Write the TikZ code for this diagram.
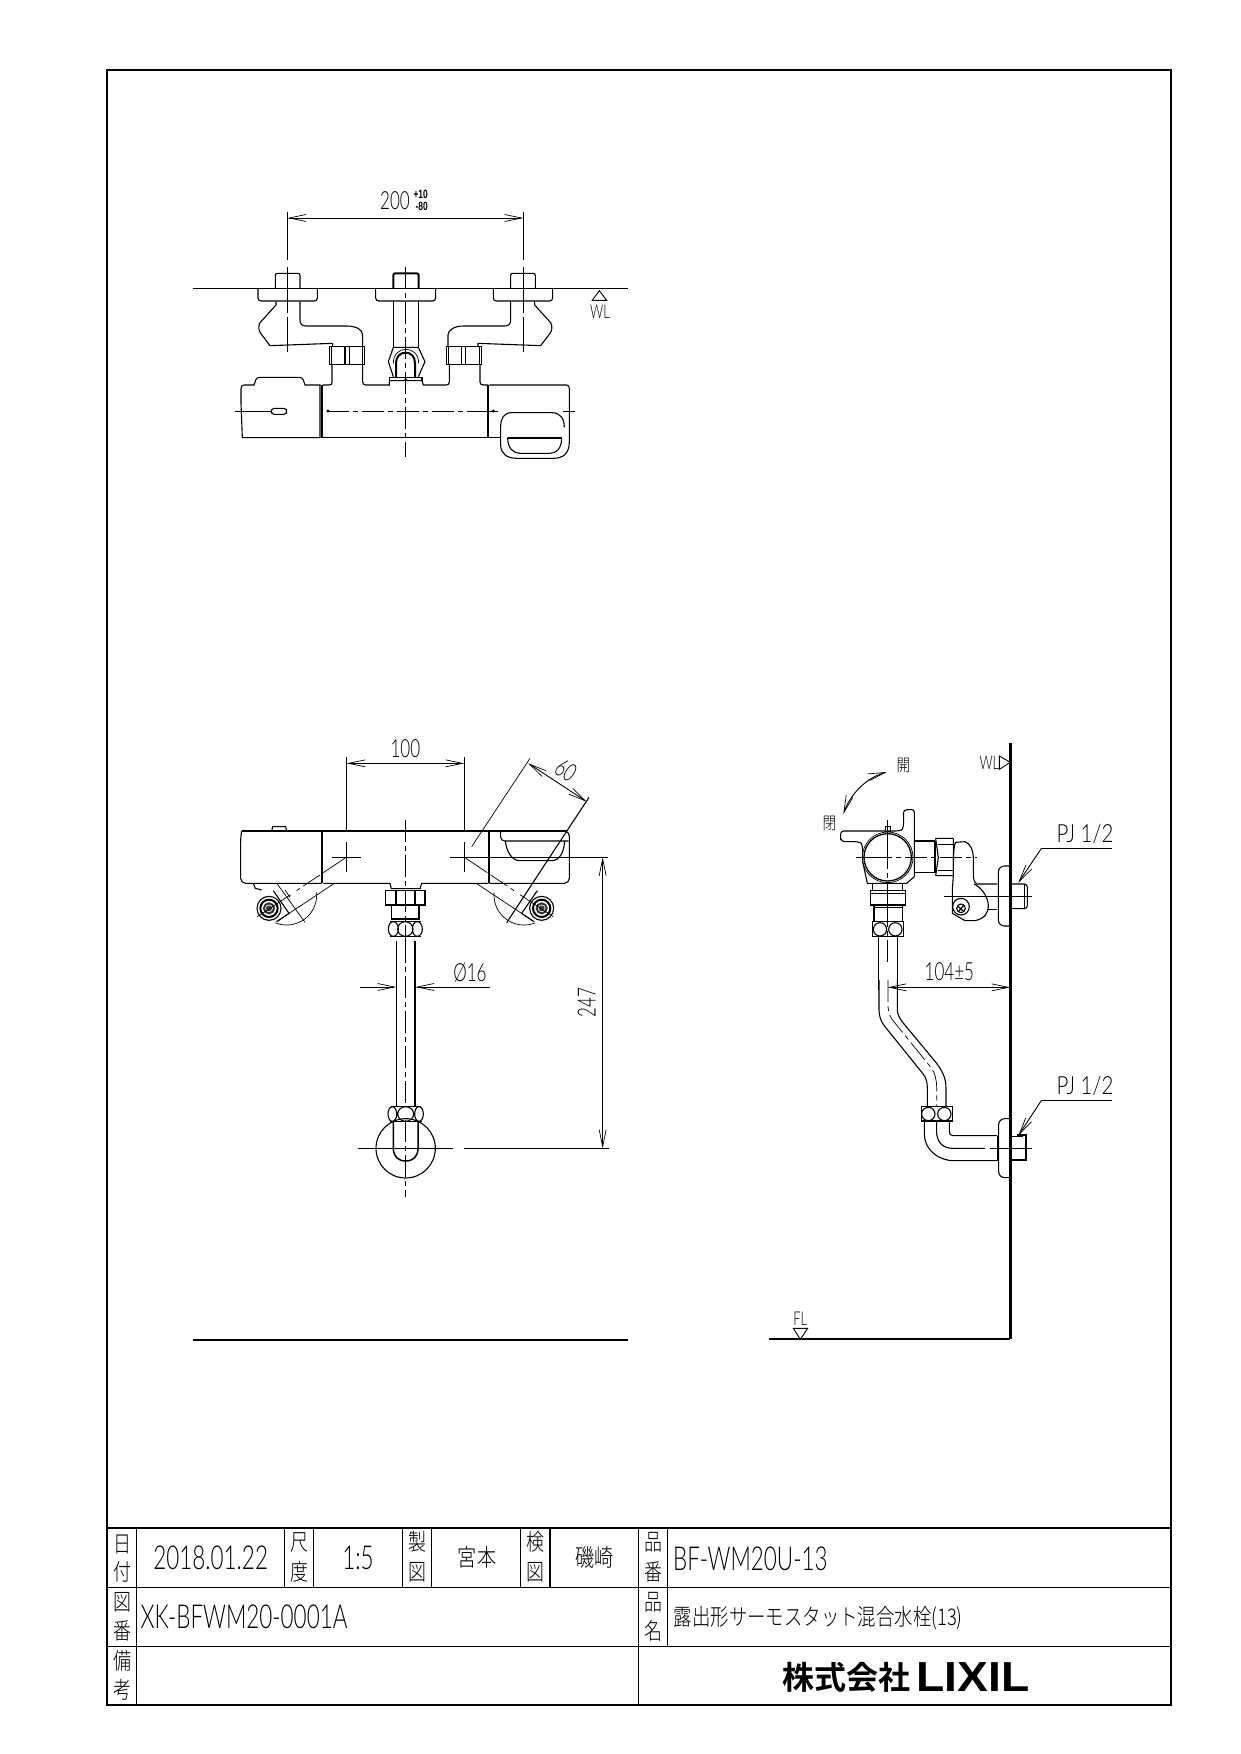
\documentclass[tikz,border=0pt]{standalone}
\usepackage{fontspec}
\usetikzlibrary{arrows.meta}
\setmainfont{Liberation Sans}
\newfontfamily\cadf[FakeStretch=0.68]{Lato Light}
\newfontfamily\cadw[FakeStretch=0.82]{Lato Light}
\newfontfamily\cjkf[FakeStretch=0.8]{Noto Sans CJK JP Light}
\newfontfamily\cjkn[FakeStretch=0.78]{Noto Sans CJK JP Light}
\newfontfamily\cjkb{Noto Sans CJK JP Bold}
\newfontfamily\logof[FakeStretch=1.1]{Liberation Sans}
\newfontfamily\tolf[FakeStretch=0.7]{Liberation Sans}
\newcommand\cadsize[1]{\fontsize{#1}{#1}\selectfont}
\tikzset{
 thinl/.style={line width=.7pt,black},
 mainl/.style={line width=1.1pt,black},
 heavyl/.style={line width=2pt,black},
 wall/.style={line width=3pt,black},
 axis/.style={line width=.7pt,black,dash pattern=on 22pt off 4pt on 5pt off 4pt},
 dimen/.style={line width=.9pt,black,>={Straight Barb[length=17pt,width=7pt,line width=.7pt]}},
 z3/.style={x=.33333pt,y=-.33333pt},
 dimtext/.style={font=\cadf\cadsize{25},inner sep=0pt},
 widetext/.style={font=\cadw\cadsize{25},inner sep=0pt},
 smalltext/.style={font=\cadf\cadsize{19},inner sep=0pt},
 tinytext/.style={font=\tolf\bfseries\cadsize{12},inner sep=0pt},
 cell/.style={font=\cadf\cadsize{33},inner sep=0pt},
 kanji/.style={font=\cjkn\cadsize{23},inner sep=0pt},
 tri/.style={line width=.9pt,black},
}
\newcommand\elbowtop{%
 \draw[mainl,rounded corners=2pt] (286,356)--(286,310)--(360,310)--(360,356);
 \draw[mainl,rounded corners=3pt] (234,356)--(234,393)--(412,393)--(412,356);
 \draw[mainl] (288,395)--(288,405)--(240,458) .. controls (234,470) and (236,482) .. (242,490)--(270,527)--(458,520)--(458,530);
 \draw[mainl] (360,395)--(360,450) .. controls (360,462) and (366,468) .. (378,468)--(500,468) .. controls (530,468) and (548,480) .. (548,495)--(548,530);
 \draw[mainl] (448,530) rectangle (553,583);
 \draw[thinl] (455,530)--(455,583) (547,530)--(547,583);
 \draw[mainl] (495,530)--(495,583) (508,530)--(508,583);
 \draw[thinl] (322,125)--(322,270) (322,290)--(322,430) (322,440)--(322,545);
}
\newcommand\lowfit{%
 \draw[thinl] plot[domain=-5:112,smooth,samples=30] ({200+90*cos(\x)},{525+90*sin(\x)});
 \draw[mainl] (147,565) circle[radius=36];
 \draw[heavyl] (147,565) circle[radius=26];
 \draw[heavyl,black!80] (147,565) circle[radius=15];
 \fill[black!75] (147,565) circle[radius=9];
 \draw[thinl] (343,490)--(170,605);
 \draw[mainl] (160,512)--(207,580)--(170,605);
 \draw[thinl] (380,411)--(310,458) (300,465)--(250,498) (240,505)--(230,512) (212,524)--(112,590);
}
\begin{document}
\begin{tikzpicture}[x=1pt,y=-1pt]
\useasboundingbox (0,0) rectangle (1240,1754);
\fill[white] (0,0) rectangle (1240,1754);
% frame and title block
\draw[heavyl] (107,70) rectangle (1171,1705);
\draw[line width=2.4pt] (107,1528)--(1171,1528);
\draw[thinl,line width=.9pt] (107,1587)--(1171,1587) (107,1646)--(1171,1646);
\draw[thinl,line width=.9pt] (136.5,1528)--(136.5,1705) (638,1528)--(638,1705)
  (284.6,1528)--(284.6,1587) (313,1528)--(313,1587) (402.5,1528)--(402.5,1587)
  (431.5,1528)--(431.5,1587) (520.7,1528)--(520.7,1587);
\draw[mainl,line width=1.6pt] (550,1528)--(550,1587) (667.5,1528)--(667.5,1646);
\node[kanji] (k1) at (122,1544) {日};
\node[kanji] (k2) at (122,1572) {付};
\node[kanji] (k3) at (122,1602) {図};
\node[kanji] (k4) at (122,1631) {番};
\node[kanji] (k5) at (122,1661) {備};
\node[kanji] (k6) at (122,1690) {考};
\node[kanji] (k7) at (299,1542) {尺};
\node[kanji] (k8) at (299,1572) {度};
\node[kanji] (k9) at (417,1542) {製};
\node[kanji] (k10) at (417,1572) {図};
\node[kanji] (k11) at (535.7,1542) {検};
\node[kanji] (k12) at (535.7,1572) {図};
\node[kanji] (k13) at (653,1542) {品};
\node[kanji] (k14) at (653,1572) {番};
\node[kanji] (k15) at (653,1602) {品};
\node[kanji] (k16) at (653,1631) {名};
\node[cell] (date) at (210.7,1558) {2018.01.22};
\node[cell] (scale) at (358,1558) {1:5};
\node[kanji,font=\cjkf\cadsize{24}] (maker) at (477,1557) {宮本};
\node[kanji,font=\cjkf\cadsize{24}] (checker) at (594.6,1557) {磯崎};
\node[cell,font=\cadf\cadsize{33}] (drawno) at (244,1617) {XK-BFWM20-0001A};
\node[cell,font=\cadf\cadsize{33},anchor=west] (partno) at (673,1559) {BF-WM20U-13};
\node[kanji,font=\cjkf\cadsize{23},anchor=west] (partname) at (673.6,1618) {露出形サーモスタット混合水栓(13)};
\node[font=\cjkb\cadsize{32},inner sep=0pt] (logoa) at (846,1677) {株式会社};
\node[font=\logof\bfseries\cadsize{42},inner sep=0pt] (logob) at (973,1677) {LIXIL};
% ---------- top view
\begin{scope}[shift={(180,170)},z3]
 \draw[dimen,<->] (322,144)--(1030,144);
 \node[dimtext] (d200) at (645,93) {200};
 \node[tinytext] (dp) at (722,73) {+10};
 \node[tinytext] (dm) at (725,110) {-80};
 \draw[line width=1.6pt] (38,356)--(1345,356);
 \elbowtop
 \begin{scope}[shift={(1352,0)},xscale=-1] \elbowtop \end{scope}
 % centre fitting
 \draw[heavyl,rounded corners=2pt] (640,356)--(640,310)--(716,310)--(716,356);
 \draw[mainl,rounded corners=3pt] (587,356)--(587,393)--(767,393)--(767,356);
 \draw[mainl] (640,393)--(640,530) (716,393)--(716,530);
 \draw[mainl] (625,575)--(640,532)--(715,532)--(735,575)--(715,620) (640,620)--(625,575);
 \draw[heavyl] (648,622)--(648,580) .. controls (648,560) and (660,548) .. (677,548) .. controls (694,548) and (705,560) .. (705,580)--(705,622);
 \draw[thinl] (640,580) .. controls (640,550) and (660,538) .. (677,538) .. controls (696,538) and (716,550) .. (716,580);
 \draw[mainl] (628,632)--(628,622)--(726,622)--(726,632);
 \fill (677,628) circle[radius=4];
 % body
 \draw[mainl] (428,645)--(448,645) .. controls (454,645) and (456,642) .. (456,636)--(456,585);
 \draw[mainl] (548,585)--(548,636) .. controls (548,642) and (552,645) .. (558,645)--(628,645)--(628,632)--(726,632)--(730,645)--(798,645) .. controls (804,645) and (808,642) .. (808,636)--(808,585);
 \draw[mainl] (900,585)--(900,636) .. controls (900,642) and (904,645) .. (910,645)--(925,645);
 \draw[heavyl] (427,645)--(427,803) (925,645)--(925,803);
 \draw[mainl] (428,803)--(925,803);
 % left cap
 \draw[mainl] (420,803)--(187,803)--(183,700)--(183,657) .. controls (183,650) and (186,645) .. (192,645)--(222,645)--(228,628) .. controls (230,624) and (234,622) .. (240,622)--(358,622) .. controls (364,622) and (368,625) .. (370,630)--(375,645)--(420,645)--cycle;
 \draw[line width=1.5pt] (240,622)--(358,622);
 \draw[mainl,rounded corners=3pt] (274,715) rectangle (320,733);
 % right cap
 \draw[mainl] (928,645)--(1160,645) .. controls (1166,645) and (1168,650) .. (1168,656)--(1168,815) .. controls (1168,850) and (1150,865) .. (1120,865)--(1010,865) .. controls (980,865) and (962,850) .. (962,825)--(962,770) .. controls (962,745) and (972,728) .. (995,728)--(1115,728) .. controls (1140,728) and (1153,745) .. (1153,772);
 \draw[mainl] (928,803)--(962,803);
 \draw[heavyl] (983,803)--(1145,803);
 \draw[mainl] (983,803) .. controls (983,835) and (1000,850) .. (1020,850)--(1110,850) .. controls (1130,850) and (1145,835) .. (1145,803);
 % centre lines
 \draw[thinl] (165,723)--(274,723);
 \draw[axis] (440,723)--(925,723);
 \draw[thinl] (925,723)--(955,723) (1150,723)--(1185,723);
 \draw[axis] (676,290)--(676,860);
 \fill (444,723) circle[radius=5] (940,723) circle[radius=5];
 \draw[tri] (1237,391)--(1258,362)--(1280,391)--cycle;
 \node[smalltext] (wl1) at (1260,424) {WL};
\end{scope}
% ---------- front view
\begin{scope}[shift={(220,720)},z3]
 \draw[dimen,<->] (380,130)--(733,130);
 \draw[thinl] (380,112)--(380,333) (733,112)--(733,333);
 \node[dimtext] (d100) at (556,85) {100};
 \draw[mainl,line width=1.4pt] (65,333)--(1040,333);
 % left cap
 \draw[mainl,rounded corners=5pt] (65,333)--(62,350)--(62,490)--(305,490);
 \draw[mainl] (100,490)--(106,505)--(125,510);
 \draw[mainl] (155,333)--(158,320)--(197,320)--(200,333);
 \draw[heavyl] (306,333)--(306,490) (808,333)--(808,490);
 \draw[mainl] (310,490)--(510,490)--(514,506)--(600,506)--(605,490)--(805,490);
 % right cap
 \draw[mainl,rounded corners=5pt] (808,333)--(1048,333)--(1048,490)--(808,490);
 \draw[mainl,rounded corners=4pt] (842,333)--(842,363)--(1046,363);
 \draw[mainl] (856,363) .. controls (860,395) and (875,422) .. (900,422)--(995,422) .. controls (1020,422) and (1032,395) .. (1034,363);
 \draw[axis] (556,300)--(556,720);
 \draw[thinl] (336,411)--(423,411) (380,367)--(380,455);
 \draw[thinl] (690,411)--(1165,411) (733,367)--(733,455);
 \lowfit
 \begin{scope}[shift={(1112,0)},xscale=-1] \lowfit \end{scope}
 \draw[thinl] (172,492)--(255,607) (195,510)--(210,532);
 % 60 dimension
 \draw[thinl] (930,115)--(755,380);
 \draw[mainl] (1107,232)--(860,608);
 \draw[dimen,<->] (925,130)--(1100,245);
 \node[dimtext,rotate=-33] (d60) at (1038,150) {60};
 % joint
 \draw[line width=1.5pt] (512,506)--(602,506);
 \draw[mainl] (497,512) rectangle (615,555);
 \draw[heavyl] (527,512)--(527,555) (585,512)--(585,555);
 \draw[mainl] (515,555)--(515,600) (597,555)--(597,600) (515,597)--(597,597);
 \draw[mainl] (520,627) ellipse[x radius=15,y radius=22] (556,627) ellipse[x radius=23,y radius=22] (592,627) ellipse[x radius=15,y radius=22];
 \draw[mainl] (510,605)--(602,605) (510,649)--(602,649);
\end{scope}
% ---------- front view, lower part
\begin{scope}[shift={(340,950)},z3]
 \draw[mainl] (169,-27)--(169,470);
 \draw[heavyl] (226,-27)--(226,470);
 \draw[axis] (197,-27)--(197,470) (197,510)--(197,740);
 \draw[dimen,->] (60,111)--(169,111);
 \draw[dimen,->] (450,111)--(226,111);
 \node[dimtext] (d16) at (390,68) {Ø16};
 \draw[dimen,<->] (788,-279)--(788,595);
 \node[dimtext,rotate=90] (d247) at (740,158) {247};
 \draw[thinl,line width=.9pt] (373,595)--(806,595);
 \draw[thinl] (53,595)--(338,595);
 \draw[mainl] (197,595) circle[radius=89];
 \draw[mainl] (157,492) ellipse[x radius=13,y radius=22] (197,492) ellipse[x radius=24,y radius=22] (237,492) ellipse[x radius=13,y radius=22];
 \draw[mainl] (152,470)--(242,470);
 \draw[line width=1.5pt] (150,514)--(245,514);
 \draw[line width=1.5pt] (160,515)--(160,595) .. controls (160,620) and (175,633) .. (197,633) .. controls (219,633) and (234,620) .. (234,595)--(234,515);
\end{scope}
% ---------- side view, upper
\begin{scope}[shift={(790,730)},z3]
 \draw[wall] (661,40)--(661,1827);
 \draw[tri] (628,78)--(661,97)--(628,118)--cycle;
 \node[smalltext] (wl2) at (598,98) {WL};
 \node[kanji,font=\cjkf\cadsize{17}] (open) at (340,105) {開};
 \node[kanji,font=\cjkf\cadsize{17}] (close) at (118,280) {閉};
 \draw[dimen,<->] (290,126) .. controls (225,145) and (180,195) .. (160,252);
 % handle
 \draw[mainl,rounded corners=3pt] (152,330)--(152,303)--(325,303) .. controls (340,298) and (342,285) .. (340,240)--(373,238)--(373,440);
 \draw[mainl,rounded corners=3pt] (152,325)--(155,335)--(205,335) .. controls (215,340) and (218,350) .. (218,370);
 \draw[mainl] (218,370)--(218,395)--(232,460)--(350,460)--(373,440);
 \draw[line width=1.3pt] (293,382) circle[radius=71];
 \draw[thinl] (293,382) circle[radius=76];
 \draw[thinl] (286,288) rectangle (300,303);
 \draw[mainl] (373,333)--(435,333) (373,428)--(435,428);
 \draw[heavyl] (435,333)--(435,428);
 \draw[mainl] (437,325)--(490,325) (437,437)--(490,437) (437,325)--(445,382)--(437,437) (490,325)--(490,437);
 \draw[thinl] (445,342)--(490,342) (445,420)--(490,420);
 \draw[thinl] (198,382)--(240,382);
 \draw[axis] (240,382)--(560,382);
 \draw[mainl] (293,270)--(293,350);
 \draw[axis] (293,350)--(293,482) (293,525)--(293,700);
 \draw[mainl] (248,460)--(248,482) (338,460)--(338,482);
 \draw[mainl] (241,482) rectangle (347,525);
 \draw[mainl] (241,490)--(347,490) (293,482)--(293,525);
 \draw[mainl] (252,525)--(252,575) (338,525)--(338,575) (252,532)--(338,532);
 \draw[mainl] (247,575) rectangle (340,620);
 \draw[mainl] (270,598) circle[radius=20] (316,598) circle[radius=20];
 \draw[mainl] (265,620)--(265,780) (322,620)--(322,780);
 % wall elbow
 \draw[mainl] (497,337)--(525,335) .. controls (540,340) and (550,360) .. (550,385)--(550,425) .. controls (549,445) and (552,455) .. (560,462)--(622,462);
 \draw[mainl] (497,337) .. controls (490,345) and (490,400) .. (490,437)--(487,480)--(487,550)--(525,572)--(555,572) .. controls (585,565) and (595,550) .. (595,525) .. controls (593,495) and (570,470) .. (552,462);
 \draw[mainl] (595,538)--(622,538);
 \draw[mainl] (513,530) circle[radius=25];
 \draw[mainl] (513,535) circle[radius=13];
 \draw[line width=1.2pt] (505,530)--(522,545) (522,525)--(505,545);
 \draw[thinl] (462,498)--(725,498);
 \draw[mainl,rounded corners=6pt] (661,408)--(625,408)--(625,588)--(661,588);
 \draw[mainl,rounded corners=3pt] (661,462)--(712,462)--(712,536)--(661,536);
 \draw[thinl] (703,462)--(703,536);
 \draw[thinl] (965,354)--(755,354);
 \draw[dimen,->] (755,354)--(685,458);
 \node[widetext] (pj1) at (885,312) {PJ 1/2};
 \node[dimtext] (d104) at (478,725) {104±5};
 \draw[dimen,<->] (293,772)--(661,772);
\end{scope}
% ---------- side view, lower
\begin{scope}[shift={(760,960)},z3]
 \draw[mainl] (357,60)--(357,150) .. controls (358,172) and (363,185) .. (375,200)--(488,340) .. controls (498,352) and (502,365) .. (502,385)--(502,440);
 \draw[axis] (384,60)--(384,140) .. controls (385,160) and (392,172) .. (400,183)--(515,325) .. controls (525,340) and (530,360) .. (530,385)--(530,440);
 \draw[mainl] (412,60)--(412,150) .. controls (412,165) and (420,175) .. (428,187)--(530,310) .. controls (548,335) and (558,355) .. (558,385)--(558,440);
 \draw[mainl] (484,440) rectangle (577,483);
 \draw[mainl] (505,462) circle[radius=20] (553,462) circle[radius=20];
 \draw[mainl] (493,483)--(493,525) .. controls (495,570) and (535,602) .. (582,602)--(712,602);
 \draw[mainl] (530,483)--(530,520) .. controls (532,548) and (550,565) .. (578,565)--(675,565);
 \draw[mainl] (568,483)--(568,515) .. controls (568,523) and (572,527) .. (580,527)--(712,527);
 \draw[mainl] (712,527)--(712,602);
 \draw[mainl,rounded corners=6pt] (751,476)--(716,476)--(716,653)--(751,653);
 \draw[mainl] (751,530)--(790,530);
 \draw[heavyl] (771,526)--(797,526)--(797,600)--(751,600);
 \draw[thinl] (690,565)--(815,565);
 \draw[thinl] (1056,420)--(845,420);
 \draw[dimen,->] (845,420)--(775,527);
 \node[widetext] (pj2) at (975,378) {PJ 1/2};
 \draw[line width=2pt] (28,1138)--(751,1138);
 \draw[tri] (100,1105)--(143,1105)--(121,1138)--cycle;
 \node[smalltext] (fl) at (121,1075) {FL};
 % front view floor line
 \draw[line width=1.6pt] (-1701,1140)--(-395,1140);
\end{scope}
\end{tikzpicture}
\end{document}
